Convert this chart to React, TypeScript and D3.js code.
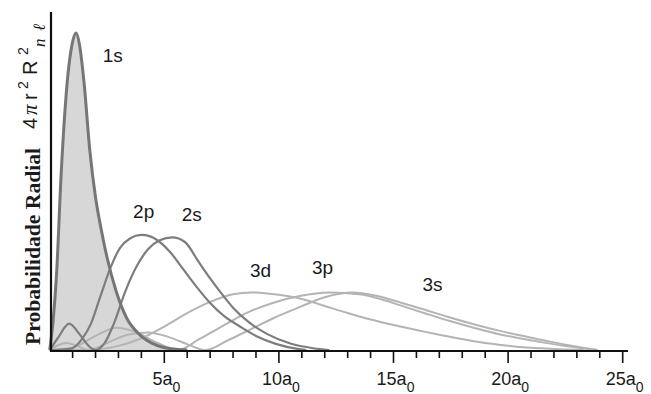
import React from "react";
import * as d3 from "d3";

// radial distance (units of a0) and radial probability
const r1s = [0, 0.15, 0.3, 0.5, 0.75, 1.0, 1.15, 1.3, 1.5, 1.75, 2.0, 2.25, 2.5, 2.9, 3.35, 3.9, 4.6, 5.3, 6.0];
const p1s = [0, 0.05, 0.13, 0.3, 0.45, 0.525, 0.54, 0.52, 0.455, 0.34, 0.26, 0.205, 0.158, 0.1, 0.055, 0.027, 0.009, 0.002, 0];

const r2p = [0, 0.9, 1.4, 1.8, 2.2, 2.65, 3.07, 3.5, 4.0, 4.7, 5.25, 5.8, 6.4, 7.0, 7.6, 8.3, 9.0, 9.9, 10.8, 11.2];
const p2p = [0, 0.002, 0.018, 0.045, 0.09, 0.14, 0.174, 0.19, 0.196, 0.187, 0.167, 0.139, 0.108, 0.08, 0.058, 0.04, 0.024, 0.01, 0.002, 0];

const r2s = [0, 0.35, 0.85, 1.3, 1.7, 2.0, 2.4, 2.8, 3.3, 3.8, 4.3, 4.8, 5.35, 5.9, 6.5, 7.0, 7.5, 8.0, 8.7, 9.5, 10.5, 11.5, 12.2];
const p2s = [0, 0.02, 0.045, 0.027, 0.007, 0, 0.012, 0.045, 0.1, 0.143, 0.172, 0.187, 0.192, 0.184, 0.15, 0.122, 0.096, 0.072, 0.047, 0.027, 0.011, 0.003, 0];

const r3d = [0, 2, 3, 4, 5, 6, 7, 8, 8.8, 10, 11, 12, 13, 14, 15.3, 16.5, 17.5, 18.5, 19.6, 20.5, 21.5, 22.5, 23.3];
const p3d = [0, 0.001, 0.007, 0.02, 0.04, 0.063, 0.082, 0.095, 0.098, 0.094, 0.087, 0.075, 0.063, 0.052, 0.04, 0.03, 0.022, 0.015, 0.009, 0.005, 0.003, 0.001, 0];

const r3p = [0, 1, 2, 2.9, 3.8, 4.7, 5.6, 6.5, 7.5, 8.7, 9.8, 10.9, 12.2, 13.5, 14.5, 15.3, 16.5, 17.5, 18.5, 19.6, 20.5, 21.5, 22.5, 23.9];
const p3p = [0, 0.004, 0.024, 0.038, 0.03, 0.012, 0, 0.018, 0.04, 0.065, 0.081, 0.092, 0.098, 0.095, 0.086, 0.076, 0.061, 0.049, 0.038, 0.027, 0.02, 0.013, 0.007, 0];

const r3s = [0, 0.35, 0.75, 1.2, 1.7, 2.5, 3.4, 4.3, 5.2, 6.0, 6.8, 7.8, 8.7, 9.8, 10.9, 12.0, 13.2, 14.2, 15.3, 16.5, 17.5, 18.5, 19.6, 20.5, 21.5, 22.5, 23.9];
const p3s = [0, 0.008, 0.012, 0.007, 0, 0.012, 0.026, 0.03, 0.022, 0.01, 0, 0.017, 0.034, 0.055, 0.073, 0.09, 0.098, 0.093, 0.081, 0.067, 0.055, 0.044, 0.033, 0.025, 0.017, 0.009, 0];

const majorTicks = [5, 10, 15, 20, 25];

const orbitalLabels = ["1s", "2p", "2s", "3d", "3p", "3s"];
const labelR = [2.75, 4.1, 6.2, 9.2, 11.9, 16.7];
const labelP = [0.49, 0.225, 0.22, 0.124, 0.13, 0.101];

const W = 651;
const H = 394;

export default function App() {
  const xs = d3.scaleLinear().domain([0, 25]).range([49.7, 622.7]);
  const ys = d3.scaleLinear().domain([0, 0.575]).range([350, 12.5]);

  const toPts = (r: number[], p: number[]) => r.map((v, i) => [v, p[i]] as [number, number]);
  const line = d3
    .line<[number, number]>()
    .x((d) => xs(d[0]))
    .y((d) => ys(d[1]))
    .curve(d3.curveMonotoneX);
  const area = d3
    .area<[number, number]>()
    .x((d) => xs(d[0]))
    .y0(ys(0))
    .y1((d) => ys(d[1]))
    .curve(d3.curveMonotoneX);

  const d1s = toPts(r1s, p1s);
  const light = [toPts(r3d, p3d), toPts(r3p, p3p), toPts(r3s, p3s)];
  const mid = [toPts(r2p, p2p), toPts(r2s, p2s)];
  const minor = xs.ticks(25).filter((t) => t > 0);

  return (
    <svg width={W} height={H} style={{ position: "absolute", left: 0, top: 0, background: "#fff" }}>
      <path d={area(d1s) || ""} fill="#d7d7d7" />
      {light.map((d, i) => (
        <path key={"l" + i} d={line(d) || ""} fill="none" stroke="#b4b4b4" strokeWidth={2} />
      ))}
      {mid.map((d, i) => (
        <path key={"m" + i} d={line(d) || ""} fill="none" stroke="#7d7d7d" strokeWidth={2.2} />
      ))}
      <path d={line(d1s) || ""} fill="none" stroke="#767676" strokeWidth={3} />

      {/* axes */}
      <line x1={51} x2={51} y1={12} y2={352} stroke="#111" strokeWidth={2.2} />
      <line x1={50} x2={628} y1={351} y2={351} stroke="#111" strokeWidth={2.2} />
      {minor.map((t) => (
        <line
          key={"t" + t}
          x1={xs(t)}
          x2={xs(t)}
          y1={351}
          y2={majorTicks.includes(t) ? 363 : 358}
          stroke="#111"
          strokeWidth={1.6}
        />
      ))}
      {majorTicks.map((t) => (
        <text
          key={"tl" + t}
          x={xs(t) + 2}
          y={385}
          textAnchor="middle"
          fontFamily="Liberation Sans, Arial, sans-serif"
          fontSize={18}
          fill="#1a1a1a"
        >
          {t}a
          <tspan fontSize={14} dy={7}>0</tspan>
        </text>
      ))}

      {orbitalLabels.map((s, i) => (
        <text
          key={s}
          x={xs(labelR[i])}
          y={ys(labelP[i])}
          textAnchor="middle"
          fontFamily="Liberation Sans, Arial, sans-serif"
          fontSize={19}
          fill="#1a1a1a"
        >
          {s}
        </text>
      ))}

      {/* y axis title */}
      <g transform="rotate(-90)">
        <text
          x={-345}
          y={40}
          fontFamily="Liberation Serif, Times New Roman, serif"
          fontWeight="bold"
          fontSize={20}
          fill="#1a1a1a"
          textLength={197}
          lengthAdjust="spacingAndGlyphs"
        >
          Probabilidade Radial
        </text>
        <g fontFamily="Liberation Sans, Arial, sans-serif" fill="#1a1a1a">
          <text x={-129} y={37} fontSize={20}>4</text>
          <text x={-115} y={37} fontSize={21} fontFamily="Liberation Serif, serif" fontStyle="italic">π</text>
          <text x={-100} y={37} fontSize={20}>r</text>
          <text x={-89} y={28} fontSize={14}>2</text>
          <text x={-75} y={37} fontSize={20}>R</text>
          <text x={-55} y={28} fontSize={14}>2</text>
          <text x={-47} y={45} fontSize={17} fontStyle="italic" fontFamily="Liberation Serif, serif">n</text>
          <text x={-31} y={45} fontSize={17} fontStyle="italic" fontFamily="Liberation Serif, serif">ℓ</text>
        </g>
      </g>
    </svg>
  );
}
